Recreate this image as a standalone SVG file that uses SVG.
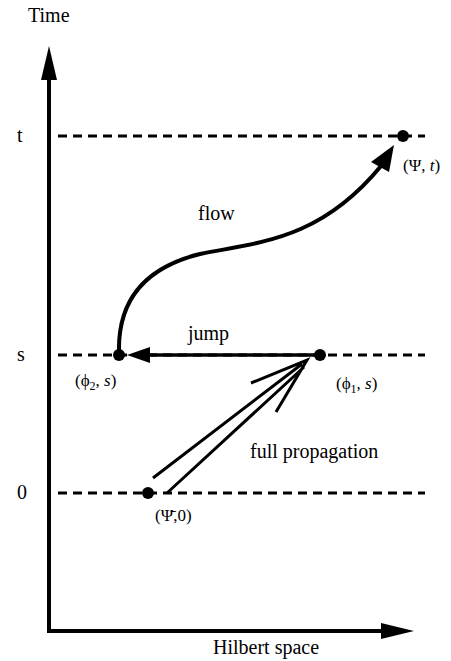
<svg xmlns="http://www.w3.org/2000/svg" width="451" height="661" viewBox="0 0 451 661">
<style>
text{font-family:"Liberation Serif","Times New Roman",serif;fill:#000}
.lbl{font-size:20px}
.co{font-size:17px}
.dash{stroke:#000;stroke-width:3;stroke-dasharray:9,6;fill:none}
.ax{stroke:#000;stroke-width:4;fill:none}
</style>
<rect width="451" height="661" fill="#fff"/>
<g id="axes">
<path class="ax" d="M49,631 V78 M47,631 H384"/>
<path d="M49,46 L57,80 L41,80 Z"/>
<path d="M414,631 L381,623 L381,639 Z"/>
<text class="lbl" x="28" y="22">Time</text>
<text class="lbl" x="213" y="654">Hilbert space</text>
<text class="lbl" x="17" y="142">t</text>
<text class="lbl" x="17" y="361">s</text>
<text class="lbl" x="17" y="499">0</text>
</g>
<g id="levels">
<path class="dash" d="M58,136 H425 M58,355 H425 M58,493 H425"/>
</g>
<g id="connectors">
<path d="M119,352 C118,310 135,270 200,254 C260,242 320,240 381,166" stroke="#000" stroke-width="4" fill="none"/>
<path d="M394,145 L389,172 L371,162 Z"/>
<path d="M320,355 H146" stroke="#000" stroke-width="3.5"/>
<path d="M127,355 L150,347 L150,363 Z"/>
<path d="M153,478 L302,364 M167,493 L304,367 M251,383 L307,360 L276,412" stroke="#000" stroke-width="3" fill="none" stroke-linejoin="miter"/>
</g>
<g id="n-psi-t">
<circle cx="403" cy="136" r="6"/>
<text class="co" x="403" y="171">(Ψ, <tspan font-style="italic">t</tspan>)</text>
</g>
<g id="n-phi2">
<circle cx="119" cy="355" r="6"/>
<text class="co" x="75" y="386">(ϕ<tspan font-size="12" dy="4">2</tspan><tspan dy="-4">, </tspan><tspan font-style="italic">s</tspan>)</text>
</g>
<g id="n-phi1">
<circle cx="320" cy="355" r="6"/>
<text class="co" x="336" y="389">(ϕ<tspan font-size="12" dy="4">1</tspan><tspan dy="-4">, </tspan><tspan font-style="italic">s</tspan>)</text>
</g>
<g id="n-psibar">
<circle cx="148" cy="493" r="6"/>
<text class="co" x="155" y="521">(Ψ̄,0)</text>
</g>
<g id="labels">
<text class="lbl" x="198" y="220">flow</text>
<text class="lbl" x="188" y="340">jump</text>
<text class="lbl" x="250" y="458">full propagation</text>
</g>
</svg>
